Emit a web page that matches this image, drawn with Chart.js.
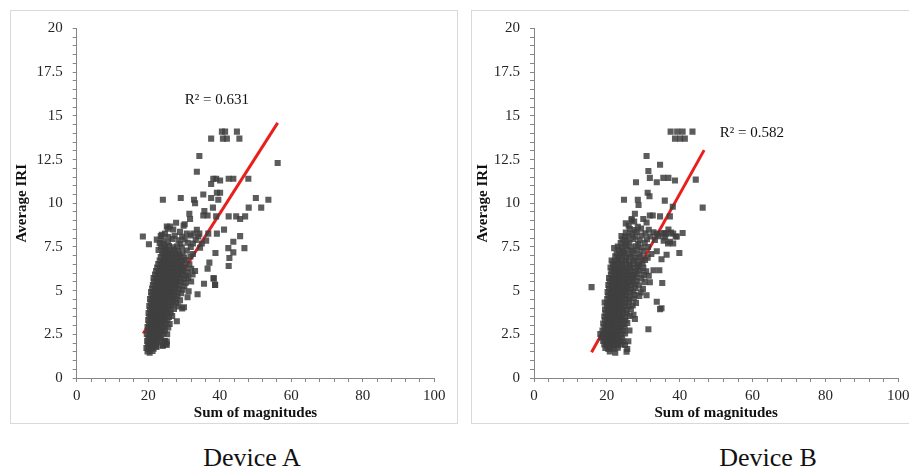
<!DOCTYPE html>
<html>
<head>
<meta charset="utf-8">
<script src="https://cdn.jsdelivr.net/npm/chart.js@4.4.1/dist/chart.umd.min.js"></script>
<style>
  html, body { margin: 0; padding: 0; background: #fff; }
  body { width: 909px; height: 472px; overflow: hidden; position: relative; font-family: "Liberation Serif", "Times New Roman", serif; }
  .panel { position: absolute; top: 10px; width: 448px; height: 414px; border: 1px solid #d9d9d9; box-sizing: border-box; background: #fff; }
  .panel canvas { display: block; }
  .caption { position: absolute; top: 443px; width: 200px; text-align: center; font-size: 26px; line-height: 30px; color: #111; }
</style>
</head>
<body>
<div class="panel" style="left:10px"><canvas id="chartA" width="446" height="412"></canvas></div>
<div class="panel" style="left:471px"><canvas id="chartB" width="446" height="412"></canvas></div>
<div class="caption" style="left:152px">Device A</div>
<div class="caption" style="left:668px">Device B</div>

<script>
// [sum of magnitudes, average IRI] for each road segment
const pointsA = [
  [19.8,1.52],[20.4,1.45],[21.2,1.55],
  [19.5,1.72],[20.1,1.66],[20.8,1.75],[21.5,1.68],[22.3,1.78],
  [19.9,1.93],[20.6,1.87],[21.3,1.95],[22.1,1.9],[24.1,1.86],[24.9,1.92],
  [19.7,2.12],[20.3,2.06],[21.0,2.15],[21.7,2.08],[22.5,2.14],[23.2,2.05],[24.6,2.12],[25.2,2.08],
  [20.0,2.32],[20.7,2.27],[21.4,2.35],[22.1,2.29],[22.9,2.34],[23.6,2.26],
  [19.6,2.52],[20.4,2.46],[21.1,2.55],[21.8,2.48],[22.6,2.53],[23.4,2.47],[24.3,2.55],[25.3,2.5],
  [20.1,2.72],[20.8,2.66],[21.5,2.74],[22.2,2.68],[23.0,2.75],[23.8,2.67],[24.7,2.73],
  [19.8,2.92],[20.5,2.87],[21.2,2.95],[21.9,2.88],[22.7,2.94],[23.5,2.86],[24.4,2.93],[25.6,2.89],
  [20.2,3.12],[20.9,3.06],[21.6,3.14],[22.4,3.08],[23.1,3.15],[23.9,3.07],[24.8,3.13],[26.0,3.09],
  [20.0,3.32],[20.7,3.27],[21.4,3.35],[22.1,3.28],[22.8,3.34],[23.6,3.26],[24.5,3.33],[25.4,3.29],[28.0,3.25],
  [20.3,3.52],[21.0,3.46],[21.7,3.55],[22.5,3.48],[23.2,3.54],[24.0,3.47],[24.9,3.53],[25.8,3.49],[26.7,3.55],
  [20.1,3.72],[20.8,3.67],[21.6,3.75],[22.3,3.68],[23.0,3.74],[23.8,3.66],[24.6,3.73],[25.5,3.69],[26.3,3.75],
  [20.5,3.92],[21.2,3.87],[21.9,3.95],[22.6,3.88],[23.4,3.94],[24.2,3.86],[25.0,3.93],[25.9,3.89],[27.2,3.95],[29.5,3.98],
  [20.3,4.12],[21.0,4.06],[21.8,4.14],[22.5,4.08],[23.2,4.15],[24.0,4.07],[24.8,4.13],[25.6,4.09],[26.5,4.15],[28.4,4.1],[30.0,4.05],
  [20.7,4.32],[21.4,4.27],[22.1,4.35],[22.9,4.28],[23.6,4.34],[24.4,4.26],[25.2,4.33],[26.1,4.29],[27.0,4.35],[27.8,4.3],
  [20.5,4.52],[21.2,4.46],[22.0,4.55],[22.7,4.48],[23.5,4.54],[24.3,4.47],[25.1,4.53],[25.9,4.49],[26.8,4.55],[27.7,4.5],[28.9,4.45],
  [20.9,4.72],[21.6,4.66],[22.4,4.74],[23.1,4.68],[23.9,4.75],[24.7,4.67],[25.5,4.73],[26.4,4.69],[27.3,4.75],[28.2,4.7],[31.0,4.62],[33.8,4.79],
  [20.8,4.92],[21.5,4.87],[22.2,4.95],[23.0,4.88],[23.8,4.94],[24.6,4.86],[25.4,4.93],[26.3,4.89],[27.1,4.95],[28.0,4.9],[29.2,4.85],
  [21.1,5.12],[21.9,5.06],[22.6,5.14],[23.4,5.08],[24.2,5.15],[25.0,5.07],[25.8,5.13],[26.7,5.09],[27.5,5.15],[28.5,5.1],[29.6,5.05],[31.3,4.96],
  [21.3,5.32],[22.0,5.27],[22.8,5.35],[23.6,5.28],[24.4,5.34],[25.2,5.26],[26.0,5.33],[26.9,5.29],[27.8,5.35],[28.7,5.3],[30.1,5.25],[35.6,5.39],[38.7,5.33],
  [21.6,5.52],[22.4,5.46],[23.1,5.55],[23.9,5.48],[24.7,5.54],[25.5,5.47],[26.4,5.53],[27.2,5.49],[28.1,5.55],[29.1,5.5],[30.5,5.45],[32.0,5.52],
  [21.5,5.72],[22.3,5.67],[23.0,5.75],[23.8,5.68],[24.6,5.74],[25.4,5.66],[26.2,5.73],[27.1,5.69],[28.0,5.75],[28.9,5.7],[30.0,5.65],[31.2,5.72],[38.3,5.7],
  [21.9,5.92],[22.7,5.86],[23.5,5.95],[24.3,5.88],[25.1,5.94],[25.9,5.87],[26.8,5.93],[27.6,5.89],[28.5,5.95],[29.4,5.9],[30.6,5.85],[32.4,5.92],
  [22.2,6.12],[23.0,6.06],[23.8,6.14],[24.6,6.08],[25.4,6.15],[26.3,6.07],[27.1,6.13],[28.0,6.09],[28.9,6.15],[29.8,6.1],[31.0,6.05],[33.1,6.12],
  [22.5,6.32],[23.3,6.26],[24.1,6.35],[24.9,6.28],[25.8,6.34],[26.6,6.27],[27.5,6.33],[28.4,6.29],[29.3,6.35],[30.3,6.3],[32.0,6.25],[36.6,6.26],
  [22.8,6.52],[23.6,6.46],[24.4,6.55],[25.3,6.48],[26.1,6.54],[27.0,6.47],[27.9,6.53],[28.8,6.49],[29.8,6.55],[31.5,6.5],[37.1,6.6],
  [23.2,6.72],[24.0,6.66],[24.9,6.75],[25.7,6.68],[26.6,6.74],[27.5,6.67],[28.4,6.73],[29.3,6.69],[30.5,6.75],
  [23.5,6.92],[24.4,6.86],[25.3,6.95],[26.2,6.88],[27.1,6.94],[28.0,6.87],[28.9,6.93],[30.0,6.89],[31.8,6.95],[42.7,6.87],
  [23.9,7.12],[24.8,7.06],[25.7,7.15],[26.6,7.08],[27.6,7.14],[28.6,7.07],[29.6,7.13],[32.5,7.1],[38.8,7.15],[43.8,7.19],
  [22.9,7.32],[24.3,7.26],[25.2,7.35],[26.2,7.28],[27.3,7.34],[28.3,7.27],[30.8,7.3],
  [23.6,7.52],[24.7,7.46],[25.8,7.55],[27.0,7.48],[28.1,7.54],[29.4,7.47],[31.9,7.5],[34.5,7.45],[42.4,7.43],[46.9,7.43],
  [20.2,7.65],[23.2,7.72],[24.3,7.66],[25.5,7.75],[29.0,7.68],[31.0,7.74],[32.5,7.7],[35.0,7.7],[43.8,7.8],
  [22.4,7.92],[24.0,7.86],[26.8,7.95],[28.5,7.88],[30.2,7.94],[33.3,7.9],[36.2,7.86],
  [18.5,8.1],[23.5,8.12],[25.6,8.06],[27.4,8.14],[29.5,8.08],[31.8,8.15],[34.0,8.1],[45.7,8.12],
  [23.8,8.2],[24.7,8.26],[28.9,8.36],[30.8,8.26],[32.6,8.26],[34.3,8.26],[36.8,8.26],[39.2,8.26],
  [25.5,8.55],[27.0,8.5],[33.6,8.48],[41.2,8.49],
  [25.2,8.67],[26.1,8.67],[29.9,8.72],[27.8,8.88],[30.2,8.8],
  [31.5,9.4],[31.7,9.1],[35.4,9.3],[36.6,9.3],[39.0,9.25],[42.5,9.25],[44.6,9.25],[45.7,9.1],[47.1,9.25],[35.7,9.55],
  [38.1,9.75],[48.1,9.75],[51.6,9.75],
  [24.1,10.2],[29.1,10.3],[32.8,10.2],[33.1,10.0],[35.4,10.5],[37.6,10.3],[39.2,10.6],[40.1,10.6],[39.6,10.2],[50.1,10.3],[53.6,10.2],
  [37.6,11.1],[38.2,11.4],[39.0,11.4],[40.1,11.3],[42.5,11.4],[43.8,11.4],[48.0,11.4],[33.6,11.8],
  [34.3,12.7],[56.2,12.3],
  [37.6,13.7],[40.6,14.1],[41.5,14.1],[40.9,13.7],[42.0,13.7],[44.8,14.1],[45.5,13.7],
  [42.5,6.41],[38.3,5.7],[38.7,5.33],[22.2,1.85],[24.0,1.85],[25.2,1.9],[24.7,2.1]
];

const pointsB = [
  [20.8,1.52],[22.3,1.45],[25.4,1.5],
  [19.6,1.72],[20.4,1.66],[21.1,1.75],[21.9,1.68],[23.0,1.74],[25.6,1.66],
  [19.3,1.92],[20.0,1.86],[20.7,1.95],[21.5,1.88],[22.3,1.94],[23.1,1.87],[24.0,1.93],[25.0,1.89],
  [19.0,2.12],[19.8,2.06],[20.5,2.15],[21.2,2.08],[22.0,2.14],[22.8,2.07],[23.6,2.13],[24.5,2.09],[25.9,2.1],
  [18.5,2.32],[19.4,2.26],[20.2,2.35],[20.9,2.28],[21.7,2.34],[22.5,2.27],[23.3,2.33],[24.2,2.29],
  [18.2,2.52],[19.1,2.46],[19.9,2.55],[20.6,2.48],[21.4,2.54],[22.2,2.47],[23.0,2.53],[23.9,2.49],[25.0,2.55],
  [18.8,2.72],[19.6,2.66],[20.4,2.75],[21.1,2.68],[21.9,2.74],[22.7,2.67],[23.5,2.73],[24.4,2.69],[26.2,2.72],
  [19.3,2.92],[20.1,2.86],[20.8,2.95],[21.6,2.88],[22.4,2.94],[23.2,2.87],[24.0,2.93],[24.9,2.89],
  [19.0,3.12],[19.8,3.06],[20.6,3.15],[21.3,3.08],[22.1,3.14],[22.9,3.07],[23.7,3.13],[24.6,3.09],[25.6,3.15],
  [19.5,3.32],[20.3,3.26],[21.0,3.35],[21.8,3.28],[22.6,3.34],[23.4,3.27],[24.2,3.33],[25.1,3.29],[27.7,3.38],
  [19.3,3.52],[20.1,3.46],[20.9,3.55],[21.6,3.48],[22.4,3.54],[23.2,3.47],[24.0,3.53],[24.9,3.49],[26.3,3.55],[27.3,3.62],
  [19.7,3.72],[20.5,3.66],[21.2,3.75],[22.0,3.68],[22.8,3.74],[23.6,3.67],[24.5,3.73],[25.5,3.69],
  [19.5,3.92],[20.3,3.86],[21.1,3.95],[21.9,3.88],[22.7,3.94],[23.5,3.87],[24.3,3.93],[25.3,3.89],[26.6,3.95],[34.6,3.94],[35.0,3.99],
  [20.0,4.12],[20.7,4.06],[21.5,4.14],[22.3,4.08],[23.1,4.15],[23.9,4.07],[24.8,4.13],[25.9,4.09],[27.1,4.15],
  [19.4,4.32],[20.2,4.26],[21.0,4.35],[21.8,4.28],[22.6,4.34],[23.4,4.27],[24.2,4.33],[25.1,4.29],[26.2,4.35],[28.0,4.3],[33.7,4.36],
  [20.1,4.52],[20.9,4.46],[21.7,4.55],[22.5,4.48],[23.3,4.54],[24.1,4.47],[25.0,4.53],[26.0,4.49],[27.4,4.55],
  [20.4,4.72],[21.2,4.66],[22.0,4.75],[22.8,4.68],[23.6,4.74],[24.4,4.67],[25.3,4.73],[26.3,4.69],[27.6,4.75],[28.9,4.7],[30.9,4.74],
  [20.2,4.92],[21.0,4.86],[21.8,4.95],[22.6,4.88],[23.4,4.94],[24.3,4.87],[25.2,4.93],[26.2,4.89],[27.3,4.95],[29.3,4.9],
  [20.6,5.12],[21.4,5.06],[22.2,5.15],[23.0,5.08],[23.8,5.14],[24.7,5.07],[25.6,5.13],[26.6,5.09],[27.8,5.15],[29.9,5.1],
  [20.4,5.32],[21.3,5.26],[22.1,5.35],[22.9,5.28],[23.8,5.34],[24.6,5.26],[25.5,5.33],[26.5,5.29],[27.6,5.35],[28.8,5.3],
  [20.8,5.52],[21.6,5.46],[22.5,5.55],[23.3,5.48],[24.2,5.54],[25.1,5.47],[26.0,5.53],[27.0,5.49],[28.2,5.55],[30.4,5.5],[31.8,5.48],[35.2,5.44],
  [20.6,5.72],[21.4,5.67],[22.3,5.75],[23.1,5.68],[24.0,5.74],[24.9,5.66],[25.8,5.73],[26.8,5.69],[27.9,5.75],[29.5,5.7],
  [21.1,5.92],[21.9,5.86],[22.7,5.95],[23.6,5.88],[24.5,5.94],[25.4,5.87],[26.3,5.93],[27.3,5.89],[28.5,5.95],[30.2,5.9],[31.5,5.85],
  [21.3,6.12],[22.2,6.06],[23.0,6.14],[23.9,6.08],[24.8,6.15],[25.7,6.07],[26.7,6.13],[27.8,6.09],[29.1,6.15],[30.8,6.1],[32.8,6.17],[34.4,6.17],
  [21.0,6.32],[21.8,6.26],[22.7,6.35],[23.5,6.28],[24.4,6.34],[25.3,6.27],[26.3,6.33],[27.4,6.29],[28.6,6.35],[30.0,6.3],
  [21.6,6.52],[22.4,6.46],[23.3,6.55],[24.2,6.48],[25.2,6.54],[26.2,6.47],[27.2,6.53],[28.4,6.49],[29.8,6.55],
  [21.3,6.72],[22.1,6.66],[23.0,6.75],[24.0,6.68],[25.0,6.74],[26.1,6.67],[27.3,6.73],[28.8,6.69],[30.5,6.75],[35.0,6.8],
  [22.3,6.96],[23.2,6.86],[24.2,6.95],[25.3,6.88],[26.5,6.94],[27.8,6.87],[29.3,6.93],[31.2,6.89],
  [22.7,7.12],[23.7,7.06],[24.8,7.15],[26.0,7.08],[27.4,7.14],[28.9,7.07],[32.2,7.1],[36.4,7.05],[39.9,7.15],
  [23.3,7.32],[24.4,7.26],[25.6,7.35],[27.0,7.28],[28.4,7.34],[30.1,7.27],[33.7,7.25],
  [22.0,7.43],[23.0,7.52],[24.0,7.46],[25.2,7.55],[26.6,7.48],[28.0,7.54],[29.6,7.47],[31.3,7.5],
  [23.8,7.72],[24.9,7.66],[26.2,7.75],[28.6,7.68],[30.4,7.74],[36.8,7.7],[38.2,7.7],
  [24.3,7.92],[25.5,7.86],[27.2,7.95],[29.0,7.88],[31.0,7.94],[33.2,7.9],[35.6,7.86],[37.3,7.8],
  [24.0,8.12],[25.0,8.06],[26.0,8.14],[27.8,8.08],[29.5,8.15],[32.0,8.1],[34.2,8.12],[36.0,8.06],[38.9,8.1],[39.2,8.1],
  [25.2,8.32],[26.9,8.26],[28.2,8.35],[30.6,8.28],[32.8,8.34],[33.7,8.26],[35.0,8.26],[35.8,8.3],[36.4,8.26],[37.6,8.32],[38.2,8.26],[40.8,8.3],
  [26.3,8.52],[27.6,8.46],[29.4,8.55],[31.5,8.48],[36.9,8.5],
  [26.0,8.72],[28.5,8.66],[25.2,8.85],[30.9,8.9],
  [26.8,9.02],[27.5,8.96],[26.8,9.1],[30.0,9.1],[27.7,9.4],[31.8,9.3],[32.6,9.3],[34.6,9.25],[37.3,9.25],
  [38.1,9.8],[46.3,9.75],[28.5,10.2],[28.7,9.9],[24.7,10.2],[31.2,10.6],[31.7,10.4],[35.9,10.15],
  [28.0,11.2],[31.4,11.85],[31.8,11.45],[33.7,11.2],[35.5,11.45],[36.9,11.45],[38.7,11.3],[44.4,11.35],
  [34.6,12.2],[30.9,12.7],
  [37.5,14.1],[39.3,14.1],[40.8,14.1],[43.5,14.1],[38.7,13.7],[40.1,13.7],[41.4,13.7],
  [15.8,5.2],[31.4,2.79]
];

// linear trend line end points
const trendAX = [18.6, 56.2];
const trendAY = [2.55, 14.6];
const trendBX = [15.8, 46.7];
const trendBY = [1.47, 13.04];

const r2A = 'R² = 0.631';
const r2B = 'R² = 0.582';

Chart.defaults.font.family = '"Liberation Serif", "Times New Roman", serif';

const AXIS_GREY = '#868686';

// writes the R² text at a data position
const r2Label = {
  id: 'r2Label',
  afterDatasetsDraw(chart, args, opts) {
    const { ctx, scales: { x, y } } = chart;
    ctx.save();
    ctx.font = '15px "Liberation Serif", serif';
    ctx.fillStyle = '#111';
    ctx.textAlign = 'center';
    ctx.textBaseline = 'middle';
    ctx.fillText(opts.text, x.getPixelForValue(opts.at[0]), y.getPixelForValue(opts.at[1]));
    ctx.restore();
  }
};

function isMultiple(v, step) {
  return Math.abs(v / step - Math.round(v / step)) < 1e-6;
}

function makeChart(id, points, tx, ty, r2Text, r2At, yWidth, padRight) {
  const ctx = document.getElementById(id).getContext('2d');
  return new Chart(ctx, {
    type: 'scatter',
    data: {
      datasets: [
        {
          data: points.map(p => ({ x: p[0], y: p[1] })),
          pointStyle: 'rect',
          pointRadius: 4.3,
          pointHoverRadius: 4.3,
          backgroundColor: 'rgba(64,64,64,0.85)',
          borderWidth: 0
        },
        {
          data: tx.map((x, i) => ({ x: x, y: ty[i] })),
          showLine: true,
          borderColor: '#e8201c',
          borderWidth: 3,
          pointRadius: 0,
          fill: false
        }
      ]
    },
    options: {
      responsive: false,
      animation: false,
      events: [],
      layout: { padding: { left: 0, right: padRight, top: 8, bottom: 0 } },
      plugins: {
        legend: { display: false },
        tooltip: { enabled: false },
        r2Label: { text: r2Text, at: r2At }
      },
      scales: {
        x: {
          type: 'linear',
          min: 0,
          max: 100,
          ticks: {
            stepSize: 4,
            autoSkip: false,
            maxRotation: 0,
            padding: 7,
            color: '#262626',
            font: { size: 15, lineHeight: 1 },
            callback: v => isMultiple(v, 20) ? v : ''
          },
          grid: { drawOnChartArea: false, drawTicks: true, tickLength: 4, color: AXIS_GREY },
          border: { color: AXIS_GREY, width: 1 },
          title: {
            display: true,
            text: 'Sum of magnitudes',
            color: '#111',
            font: { size: 15, weight: 'bold' },
            padding: { top: 0, bottom: 1 }
          },
          afterFit: s => { s.height = 45; }
        },
        y: {
          type: 'linear',
          min: 0,
          max: 20,
          ticks: {
            stepSize: 0.5,
            autoSkip: false,
            padding: 10,
            color: '#262626',
            font: { size: 15, lineHeight: 1 },
            callback: v => isMultiple(v, 2.5) ? v : ''
          },
          grid: { drawOnChartArea: false, drawTicks: true, tickLength: 4, color: AXIS_GREY },
          border: { color: AXIS_GREY, width: 1 },
          title: {
            display: true,
            text: 'Average IRI',
            color: '#111',
            font: { size: 15, weight: 'bold' },
            padding: { top: 2, bottom: 0 }
          },
          afterFit: s => { s.width = yWidth; }
        }
      }
    },
    plugins: [r2Label]
  });
}

makeChart('chartA', pointsA, trendAX, trendAY, r2A, [39.2, 15.9], 65.7, 22.7);
makeChart('chartB', pointsB, trendBX, trendBY, r2B, [59.8, 14.0], 62, 19.7);
</script>
</body>
</html>
